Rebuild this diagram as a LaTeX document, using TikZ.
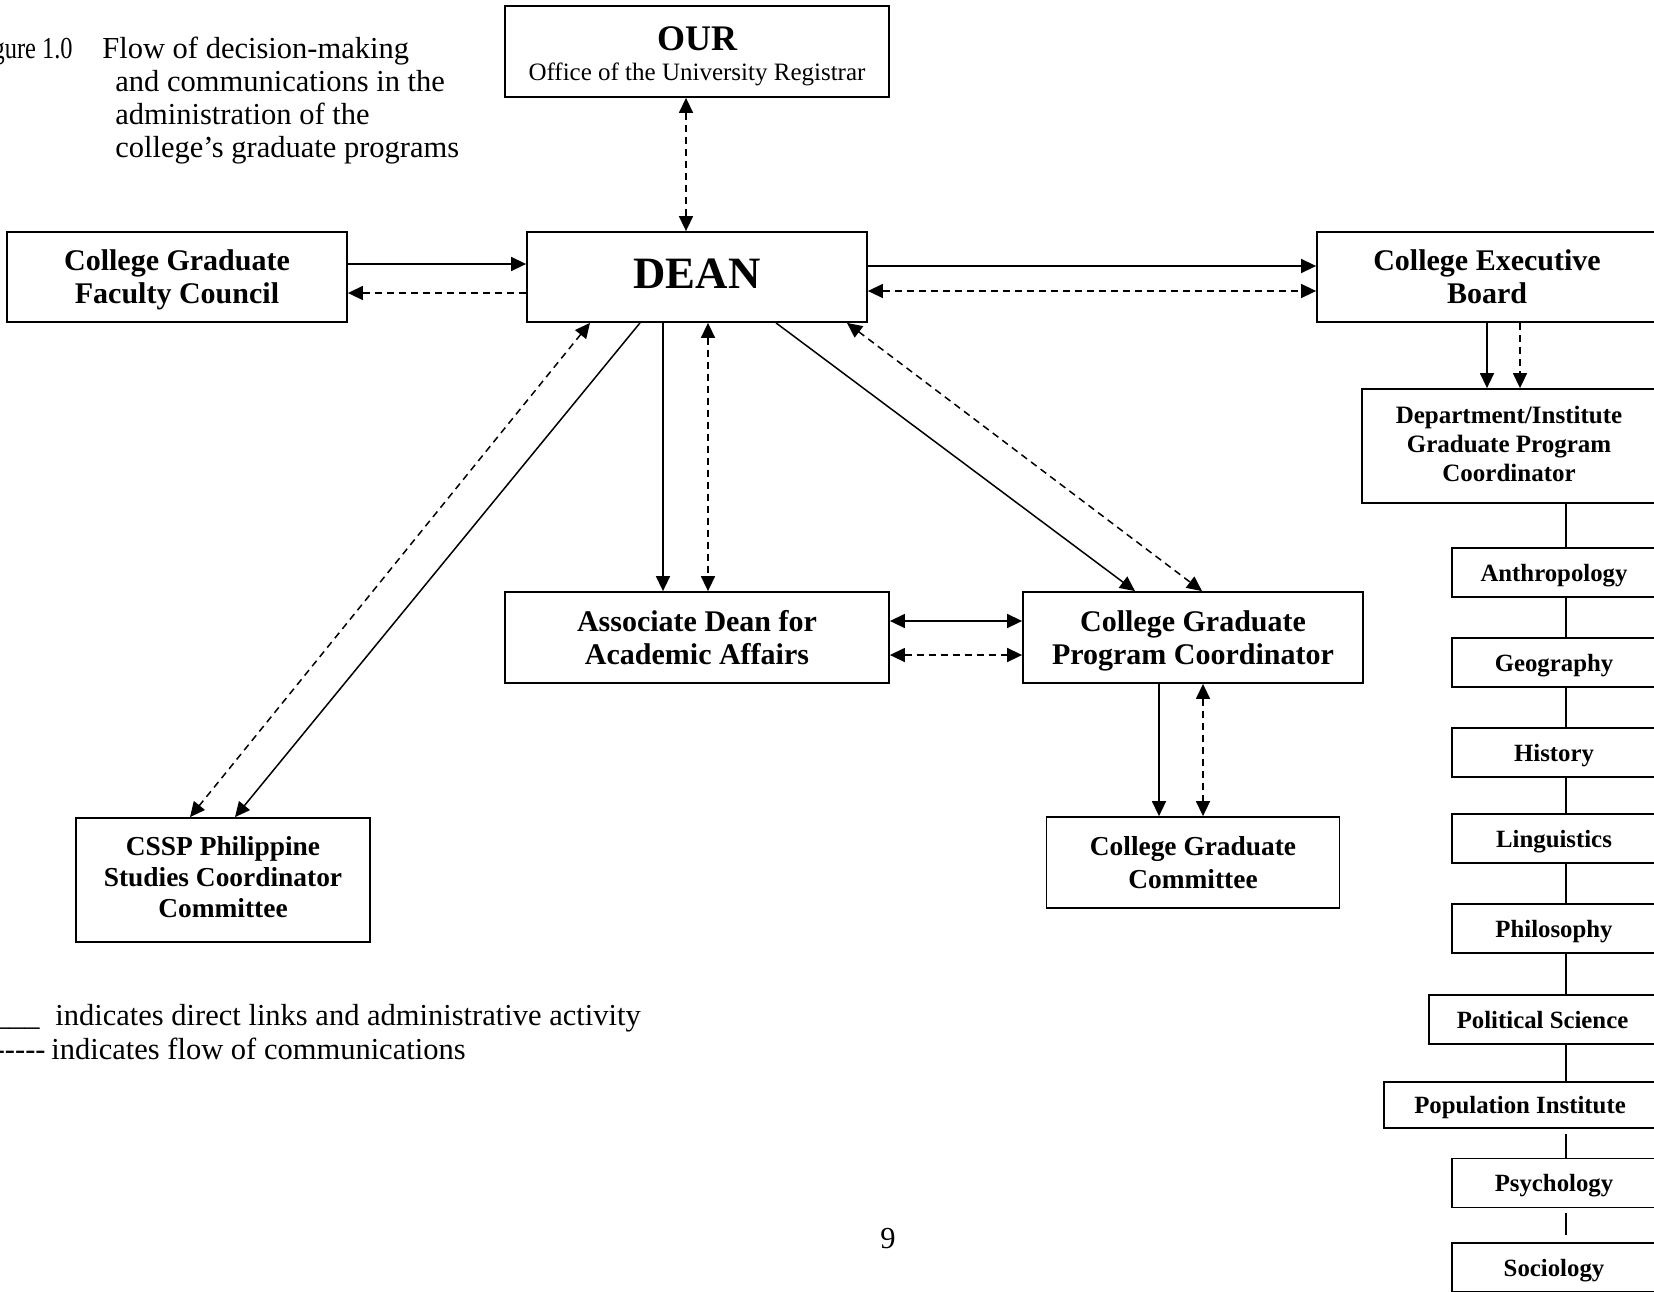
\documentclass[tikz,border=0pt]{standalone}
\usepackage{fontspec}
\usepackage{graphicx}
\setmainfont{Liberation Serif}
\usetikzlibrary{calc,arrows.meta}
\begin{document}
\begin{tikzpicture}[x=0.5pt,y=-0.5pt,
  box/.style={draw,line width=0.9pt,align=center,inner sep=0pt,text depth=0pt,font=\fontsize{15}{16.5}\selectfont\bfseries},
  dept/.style={draw,line width=0.9pt,inner sep=0pt,text depth=0pt,minimum width=102pt,minimum height=24.5pt,font=\fontsize{12.4}{14}\selectfont\bfseries},
  conn/.style={line width=0.75pt},
  comm/.style={line width=0.75pt,dash pattern=on 3.5pt off 2.5pt},
  fwd/.style={-{Triangle[length=7.5pt,width=7pt]}},
  both/.style={{Triangle[length=7.5pt,width=7pt]}-{Triangle[length=7.5pt,width=7pt]}},
  txt/.style={inner sep=0pt,font=\fontsize{15.25}{16.5}\selectfont}
]
\fill[white] (0,0) rectangle (1654,1291);
\useasboundingbox (0,0) rectangle (1654,1291);

% caption
\node[txt,anchor=base east] (figno) at (73,58) {\scalebox{0.8}[1]{Figure 1.0}};
\node[txt,anchor=base west] (cap1) at (102,58) {Flow of decision-making};
\node[txt,anchor=base west] (cap2) at (115,91) {and communications in the};
\node[txt,anchor=base west] (cap3) at (115,124) {administration of the};
\node[txt,anchor=base west] (cap4) at (115,157) {college’s graduate programs};

% boxes
\node[box,minimum width=192pt,minimum height=45.5pt] (our) at (697,51.5) {};
\node[inner sep=0pt,anchor=base,font=\fontsize{18}{20}\selectfont\bfseries] (ourt) at (697,50) {OUR};
\node[inner sep=0pt,anchor=base,font=\fontsize{12.5}{14}\selectfont] (ours) at (697,80) {Office of the University Registrar};

\node[box,minimum width=170pt,minimum height=45pt] (cgfc) at (177,277) {College Graduate\\Faculty Council};
\node[box,minimum width=170pt,minimum height=45pt,font=\fontsize{22.4}{24}\selectfont\bfseries] (dean) at (697,277) {\raisebox{3.5pt}{DEAN}};
\node[box,minimum width=170pt,minimum height=45pt] (ceb) at (1487,277) {College Executive\\Board};
\node[box,minimum width=147pt,minimum height=57pt,text depth=2pt,font=\fontsize{12.5}{14.5}\selectfont\bfseries] (dgpc) at (1509,446) {Department/Institute\\Graduate Program\\Coordinator};

\node[box,minimum width=192pt,minimum height=45.5pt] (adaa) at (697,637.5) {Associate Dean for\\Academic Affairs};
\node[box,minimum width=170pt,minimum height=45.5pt] (cgpc) at (1193,637.5) {College Graduate\\Program Coordinator};
\node[box,minimum width=147pt,minimum height=62pt,text depth=3pt,font=\fontsize{13.7}{15.5}\selectfont\bfseries] (cssp) at (223,880) {CSSP Philippine\\Studies Coordinator\\Committee};
\node[box,minimum width=146.5pt,minimum height=45.5pt,font=\fontsize{13.7}{16.5}\selectfont\bfseries] (cgc) at (1193,862.5) {College Graduate\\Committee};

% departments
\node[dept] (anth) at (1554,572.5) {Anthropology};
\node[dept] (geog) at (1554,662.5) {Geography};
\node[dept] (hist) at (1554,752.5) {History};
\node[dept] (ling) at (1554,838.5) {Linguistics};
\node[dept] (phil) at (1554,928.5) {Philosophy};
\node[dept,minimum width=113.5pt] (pols) at (1542.5,1019.5) {Political Science};
\node[dept,minimum width=136pt,minimum height=23pt,text depth=-2pt] (popi) at (1520,1105) {Population Institute};
\node[dept] (psyc) at (1554,1183) {Psychology};
\node[dept] (soci) at (1554,1267.5) {Sociology};

% connectors
\draw[comm,both] ($(our.south)+(-11,0)$) -- ($(dean.north)+(-11,0)$);
\draw[conn,fwd] ($(cgfc.east)+(0,-13)$) -- ($(dean.west)+(0,-13)$);
\draw[comm,fwd] ($(dean.west)+(0,16)$) -- ($(cgfc.east)+(0,16)$);
\draw[conn,fwd] ($(dean.east)+(0,-11)$) -- ($(ceb.west)+(0,-11)$);
\draw[comm,both] ($(dean.east)+(0,14)$) -- ($(ceb.west)+(0,14)$);
\draw[conn,fwd] ($(dean.south)+(-34,0)$) -- ($(adaa.north)+(-34,0)$);
\draw[comm,both] ($(dean.south)+(11,0)$) -- ($(adaa.north)+(11,0)$);
\draw[conn,fwd] ($(dean.south)+(-57,0)$) -- ($(cssp.north)+(12,0)$);
\draw[comm,both] ($(dean.south)+(-107,0)$) -- ($(cssp.north)+(-33,0)$);
\draw[conn,fwd] ($(dean.south)+(79,0)$) -- ($(cgpc.north)+(-58,0)$);
\draw[comm,both] ($(dean.south)+(150,0)$) -- ($(cgpc.north)+(9,0)$);
\draw[conn,both] ($(adaa.east)+(0,-16.5)$) -- ($(cgpc.west)+(0,-16.5)$);
\draw[comm,both] ($(adaa.east)+(0,17.5)$) -- ($(cgpc.west)+(0,17.5)$);
\draw[conn,fwd] ($(cgpc.south)+(-34,0)$) -- ($(cgc.north)+(-34,0)$);
\draw[comm,both] ($(cgpc.south)+(10,0)$) -- ($(cgc.north)+(10,0)$);
\draw[conn,fwd] (ceb.south) -- ($(dgpc.north)+(-22,0)$);
\draw[comm,fwd] ($(ceb.south)+(33,0)$) -- ($(dgpc.north)+(11,0)$);

% department column
\draw[conn] ($(dgpc.south)+(57,0)$) -- ($(anth.north)+(12,0)$);
\draw[conn] ($(anth.south)+(12,0)$) -- ($(geog.north)+(12,0)$);
\draw[conn] ($(geog.south)+(12,0)$) -- ($(hist.north)+(12,0)$);
\draw[conn] ($(hist.south)+(12,0)$) -- ($(ling.north)+(12,0)$);
\draw[conn] ($(ling.south)+(12,0)$) -- ($(phil.north)+(12,0)$);
\draw[conn] ($(phil.south)+(12,0)$) -- ($(pols.north)+(23.5,0)$);
\draw[conn] ($(pols.south)+(23.5,0)$) -- ($(popi.north)+(46,0)$);
\draw[conn,shorten <=2.5pt] ($(popi.south)+(46,0)$) -- ($(psyc.north)+(12,0)$);
\draw[conn,shorten <=2.5pt,shorten >=3.5pt] ($(psyc.south)+(12,0)$) -- ($(soci.north)+(12,0)$);

% legend
\node[txt,anchor=base east] (lg1a) at (40,1025) {\_\_\_};
\node[txt,anchor=base west] (lg1b) at (55,1025) {indicates direct links and administrative activity};
\node[txt,anchor=base east] (lg2a) at (46,1059) {-{}-{}-{}-{}-};
\node[txt,anchor=base west] (lg2b) at (51,1059) {indicates flow of communications};

% page number
\node[txt,anchor=base] (pg) at (888,1248) {9};
\end{tikzpicture}
\end{document}
